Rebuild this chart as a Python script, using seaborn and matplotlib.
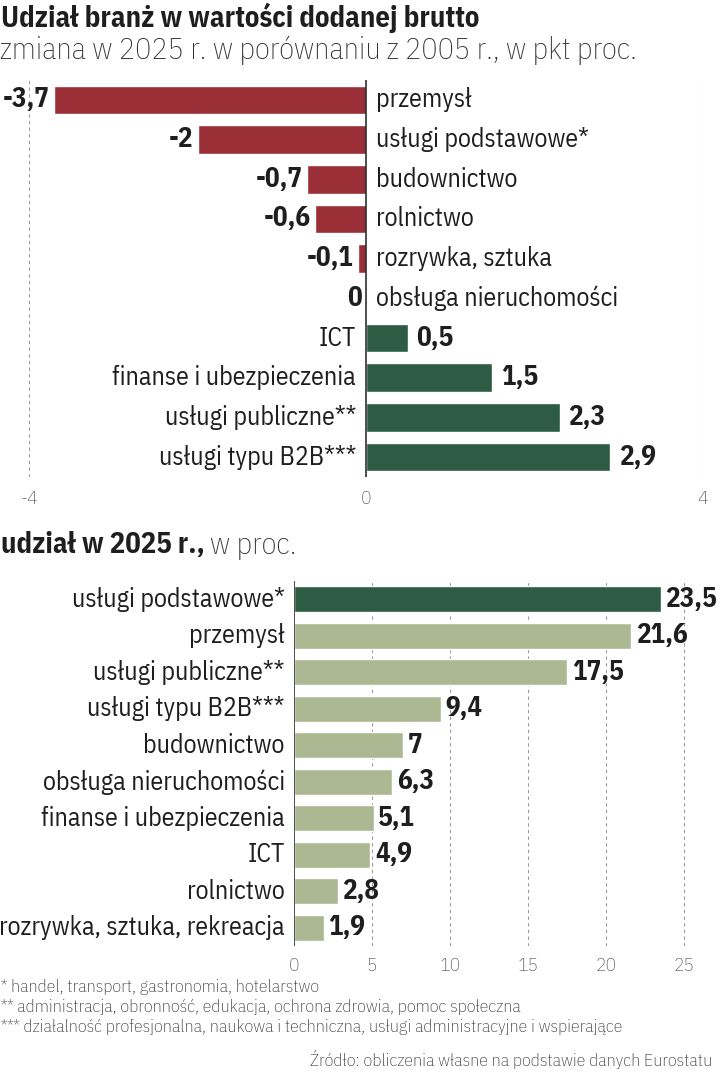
import matplotlib
matplotlib.use('Agg')
import matplotlib.pyplot as plt
import seaborn as sns
import pandas as pd

# zmiana udzialu 2025 vs 2005, pkt proc.
change_cats = ['przemysł', 'usługi podstawowe*', 'budownictwo', 'rolnictwo', 'rozrywka, sztuka',
               'obsługa nieruchomości', 'ICT', 'finanse i ubezpieczenia', 'usługi publiczne**',
               'usługi typu B2B***']
change_vals = [-3.7, -2, -0.7, -0.6, -0.1, 0, 0.5, 1.5, 2.3, 2.9]

# udzial w 2025, proc.
share_cats = ['usługi podstawowe*', 'przemysł', 'usługi publiczne**', 'usługi typu B2B***',
              'budownictwo', 'obsługa nieruchomości', 'finanse i ubezpieczenia', 'ICT',
              'rolnictwo', 'rozrywka, sztuka, rekreacja']
share_vals = [23.5, 21.6, 17.5, 9.4, 7, 6.3, 5.1, 4.9, 2.8, 1.9]

RED = '#9b2f38'
DKGREEN = '#2d5b43'
LTGREEN = '#abb892'
INK = '#1e1e1e'

sns.set_theme(style='white')
plt.rcParams['font.family'] = ['IBM Plex Sans Condensed', 'Roboto Condensed', 'DejaVu Sans']

CAT_FS = 18.6   # category names
VAL_FS = 19.5   # bold values
TICK_FS = 14
NOTE_FS = 12.9


def fmt(v):
    return f"{v:g}".replace('.', ',')


W, H = 717, 1080
fig = plt.figure(figsize=(W / 100, H / 100), dpi=100)


def box(x0, y0, x1, y1):
    return [x0 / W, 1 - y1 / H, (x1 - x0) / W, (y1 - y0) / H]


fig.text(1 / W, 1 - 18 / H, 'Udział branż w wartości dodanej brutto', fontsize=20.6,
         fontweight='bold', color=INK, va='center', ha='left')
fig.text(0 / W, 1 - 50 / H, 'zmiana w 2025 r. w porównaniu z 2005 r., w pkt proc.', fontsize=21.8,
         fontweight='light', color='#333333', va='center', ha='left')

# --- top chart ---
ax1 = fig.add_axes(box(29, 80, 703, 477))
df1 = pd.DataFrame({'cat': change_cats, 'val': change_vals})
cols1 = [RED if v < 0 else DKGREEN for v in change_vals]
sns.barplot(data=df1, x='val', y='cat', hue='cat', palette=cols1, legend=False,
            width=0.72, saturation=1, ax=ax1)
ax1.set_xlim(-4, 4)
ax1.set_ylim(9.5, -0.5)
ax1.axvline(0, color=INK, lw=1.1, zorder=3)
for xx in (-4, 4):
    ax1.axvline(xx, color='#9a9a9a', lw=0.8, ls=(0, (3, 3)))
for s in ax1.spines.values():
    s.set_visible(False)
ax1.set_xticks([-4, 0, 4])
ax1.set_xticklabels(['-4', '0', '4'])
ax1.tick_params(axis='x', length=0, pad=9, labelsize=TICK_FS, labelcolor='#555555')
for t in ax1.get_xticklabels():
    t.set_fontweight('light')
ax1.set_yticks([])
ax1.set_xlabel('')
ax1.set_ylabel('')

for i, (c, v) in enumerate(zip(change_cats, change_vals)):
    if v <= 0:
        ax1.text(0.12, i, c, ha='left', va='center', fontsize=CAT_FS, color=INK)
        ax1.text(v - 0.05, i, fmt(v), ha='right', va='center', fontsize=VAL_FS,
                 fontweight='bold', color=INK)
    else:
        ax1.text(-0.12, i, c, ha='right', va='center', fontsize=CAT_FS, color=INK)
        ax1.text(v + 0.1, i, fmt(v), ha='left', va='center', fontsize=VAL_FS,
                 fontweight='bold', color=INK)

t_b = fig.text(1 / W, 1 - 545 / H, 'udział w 2025 r.,', fontsize=20.6, fontweight='bold',
               color=INK, va='center', ha='left')
fig.canvas.draw()
bb = t_b.get_window_extent()
fig.text((bb.x1 + 5) / W, 1 - 545 / H, 'w proc.', fontsize=21.8, fontweight='light',
         color='#333333', va='center', ha='left')

# --- bottom chart ---
ax2 = fig.add_axes(box(294, 581, 294 + 27 * 15.6, 946))
df2 = pd.DataFrame({'cat': share_cats, 'val': share_vals})
cols2 = [DKGREEN] + [LTGREEN] * (len(share_vals) - 1)
sns.barplot(data=df2, x='val', y='cat', hue='cat', palette=cols2, legend=False,
            width=0.72, saturation=1, ax=ax2)
ax2.set_xlim(0, 27)
ax2.set_ylim(9.5, -0.5)
for xx in [5, 10, 15, 20, 25]:
    ax2.axvline(xx, color='#9a9a9a', lw=0.8, ls=(0, (3, 3)), zorder=0)
ax2.axvline(0, color=INK, lw=1.1, zorder=3)
for s in ax2.spines.values():
    s.set_visible(False)
ax2.set_xticks([0, 5, 10, 15, 20, 25])
ax2.tick_params(axis='x', length=0, pad=8, labelsize=TICK_FS, labelcolor='#555555')
for t in ax2.get_xticklabels():
    t.set_fontweight('light')
ax2.set_yticks([])
ax2.set_xlabel('')
ax2.set_ylabel('')

for i, (c, v) in enumerate(zip(share_cats, share_vals)):
    ax2.text(-0.6, i, c, ha='right', va='center', fontsize=CAT_FS, color=INK)
    ax2.text(v + 0.3, i, fmt(v), ha='left', va='center', fontsize=VAL_FS,
             fontweight='bold', color=INK)

notes = ['* handel, transport, gastronomia, hotelarstwo',
         '** administracja, obronność, edukacja, ochrona zdrowia, pomoc społeczna',
         '*** działalność profesjonalna, naukowa i techniczna, usługi administracyjne i wspierające']
for k, n in enumerate(notes):
    fig.text(1 / W, 1 - (987 + 20 * k) / H, n, fontsize=NOTE_FS, fontweight='light',
             color='#333333', va='center', ha='left')
fig.text(712 / W, 1 - 1059 / H, 'Źródło: obliczenia własne na podstawie danych Eurostatu',
         fontsize=NOTE_FS, fontweight='light', color='#333333', va='center', ha='right')

fig.savefig('out.png', dpi=100, facecolor='white')
